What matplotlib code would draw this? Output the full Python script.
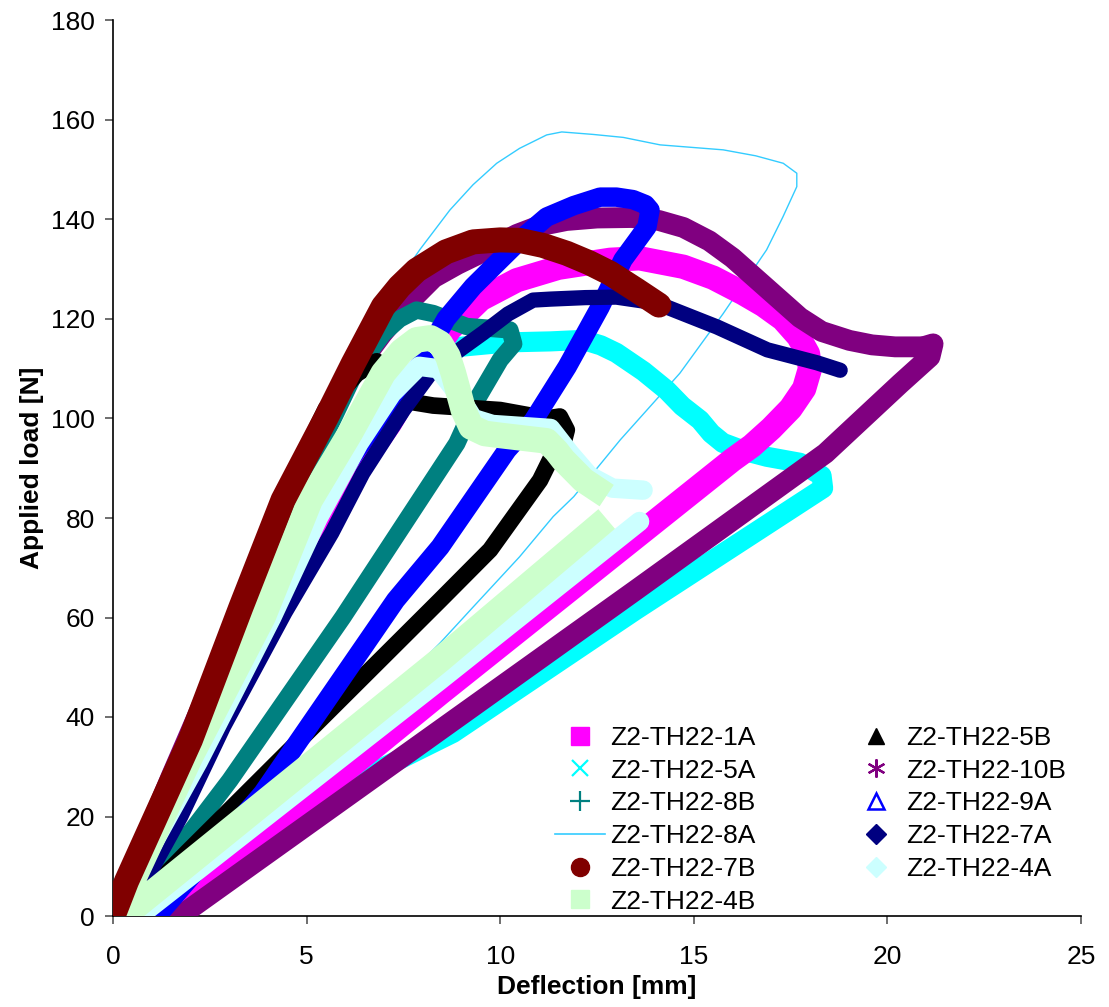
import numpy as np
import matplotlib
matplotlib.use("Agg")
import matplotlib.pyplot as plt
from matplotlib.lines import Line2D

plt.rcParams['font.family'] = ['Liberation Sans', 'DejaVu Sans']

nan = np.nan
# ---- data (deflection [mm], load [N]) ----
labels = ["Z2-TH22-1A", "Z2-TH22-5A", "Z2-TH22-8B", "Z2-TH22-8A", "Z2-TH22-7B",
          "Z2-TH22-4B", "Z2-TH22-5B", "Z2-TH22-10B", "Z2-TH22-9A", "Z2-TH22-7A",
          "Z2-TH22-4A"]

s1A_x = [0, 0.5, 2.0, 3.95, 5.2, 6.0, 6.7, 7.15, 7.6, 8.7, 9.5, 10.43, 11.5, 12.84,
         13.6, 14.73, 15.5, 16.27, 16.8, 17.3, 17.7, 17.95, 18.0, 17.85, 17.5, 17.0,
         16.5, 16.0, 8.45, 1.4]
s1A_y = [0, 7, 32, 60.2, 77, 87, 94, 99, 105, 118, 124, 127.8, 130.3, 131.9,
         132.2, 130.5, 128.3, 125.2, 122.8, 120, 116.5, 113, 110, 106, 102, 98,
         94.5, 91.7, 44.8, 0]

s5A_x = [0, 0.5, 2.0, 3.95, 5.1, 5.8, 6.5, 7.35, 7.85, 8.5, 8.96, 10.2, 11.3,
         12.14, 12.6, 13.0, 13.7, 14.3, 14.7, 15.16, 15.45, 15.75, 16.3, 16.89,
         17.74, 18.3, 18.34, 13.5, 8.78, 6.5, 4.2, 2.0, 0.9]
s5A_y = [0, 7, 32, 60.2, 77, 86, 94, 103, 108.5, 112, 114.4, 115.3, 115.5,
         115.8, 114.7, 113.2, 109.5, 105.7, 102.5, 99.7, 97, 95.1, 93.5, 92.3,
         91.1, 88.5, 86, 61.5, 36.8, 28, 17, 5.5, 0]

s8B_x = [0, 0.4, 2.1, 3.55, 4.7, 5.75, 6.3, 6.98, 7.4, 7.84, 8.27, 9.13, 10.25,
         10.35, 10.0, 9.39, 8.88, 5.94, 3.02, 1.0, 0.4]
s8B_y = [0, 7, 36, 62, 84, 101, 110, 117.1, 120, 121.8, 121.1, 118.5, 117.8,
         115, 111.8, 103.7, 95, 60.1, 27.3, 6.6, 0]

s8A_x = [0, 2.0, 3.4, 4.5, 5.6, 6.5, 7.15, 7.93, 8.7, 9.3, 9.91, 10.5, 11.2, 11.59,
         12.4, 13.18, 14.13, 15.76, 16.6, 17.31, 17.66, 17.66, 17.3, 16.88, 15.76,
         14.64, 13.1, 11.9, 11.37, 10.5, 9.3, 8.45, 7.67, 1.2]
s8A_y = [0, 36, 62, 84, 103, 116, 125.2, 134, 141.9, 147, 151.3, 154.3, 157, 157.6,
         157.1, 156.5, 155, 154, 152.8, 151.3, 149.3, 146.6, 140.5, 133.9, 121.1,
         109.1, 95.7, 84.3, 80.3, 72.2, 62.1, 54.9, 48.8, 0]

s7B_x = [0, 0.35, 2.0, 3.3, 4.39, 5.52, 6.2, 6.98, 7.4, 7.84, 8.6, 9.3, 10.0, 10.5,
         11.1, 11.72, 12.3, 12.84, 13.52, 14.1]
s7B_y = [0, 7, 35.4, 62, 83.6, 100.4, 111, 122.5, 126.5, 129.8, 133.5, 135.5,
         135.9, 135.8, 134.8, 133.2, 131.3, 129.2, 125.8, 122.8]

s4B_x = [0, 0.5, 2.0, 3.88, 5.09, 6.12, 6.98, 7.45, 7.84, 8.2, 8.45, 8.65, 8.79,
         9.05, 9.25, 9.6, 10.0, 11.2, 11.45, 11.63, 12.15, 12.75, nan, 12.75, 8.45,
         0.28]
s4B_y = [0, 7, 32, 60.2, 83.6, 97, 109.1, 113.5, 115.8, 116.2, 115.1, 112.5,
         109.1, 101.7, 98.3, 97, 96.6, 95.5, 93.5, 91.7, 87.6, 84.5, nan, 79.8,
         51.5, 0]

s5B_x = [0, 2.0, 3.3, 4.5, 5.5, 6.3, 6.81, 7.41, 8.27, 10.0, 11.2, 11.54, 11.72,
         11.63, 11.29, 11.03, 9.74, 8.45, 1.9, 0.3]
s5B_y = [0, 36, 62, 86, 102, 109, 111.5, 103.7, 102.6, 101.7, 100, 100.4, 97.7,
         95, 91.7, 87.6, 73.6, 63.5, 12.7, 0]

s10B_x = [0, 1.5, 3.0, 4.5, 5.8, 6.95, 7.6, 8.28, 8.9, 9.56, 10.43, 11.0, 11.71,
          12.5, 13.4, 14.1, 14.73, 15.4, 16.0, 16.87, 17.74, 18.3, 19.02, 19.6,
          20.2, 20.92, 21.18, 21.1, 20.33, 18.4, 13.5, 8.45, 1.73]
s10B_y = [0, 28, 55, 85, 105, 117, 123, 128.3, 131, 133.5, 137, 138.7, 139.8,
          140.3, 140.4, 139.8, 138.4, 135.7, 132.3, 126.3, 120.3, 117.5, 115.7,
          114.8, 114.4, 114.4, 115, 112.4, 107, 93, 65.5, 37.4, 0]

s9A_x = [0, 0.5, 2.0, 3.95, 5.0, 5.65, 6.3, 7.2, 7.9, 8.6, 9.3, 10.0, 10.6,
         11.2, 11.9, 12.58, 13.0, 13.43, 13.75, 13.87, 13.79, 13.17, 12.58, 11.73,
         10.85, 10.18, 8.45, 7.3, 3.87, 1.14]
s9A_y = [0, 7, 32, 60.2, 77, 86, 93.7, 103.7, 110.4, 120, 126.5, 131.9, 136.5,
         140.5, 142.8, 144.5, 144.5, 144, 143, 141.9, 138.5, 131.9, 122.4, 110.4,
         99.5, 93.7, 74.2, 63.5, 24.7, 0]

s7A_x = [0, 0.9, 1.75, 2.85, 4.44, 5.65, 6.45, 7.5, 8.19, 8.9, 9.56, 10.2, 10.85,
         11.3, 12.2, 13.0, 13.7, 14.3, 15.6, 16.9, 18.18, 18.78]
s7A_y = [0, 8, 20, 38, 61, 77, 89, 101.7, 109, 113.5, 117.2, 121, 123.8,
         124, 124.3, 124.4, 123.6, 122.4, 118.4, 113.8, 111.2, 109.7]

s4A_x = [0, 2.2, 4.1, 5.3, 6.35, 7.2, 7.9, 8.4, 8.9, 9.3, 9.8, 11.3, 11.8, 12.3,
         12.9, 13.69, nan, 13.6, 8.45, 0.68]
s4A_y = [0, 31, 60, 80, 95, 105, 110.5, 110, 105, 100, 98.8, 98, 93, 88.5,
         86, 85.6, nan, 79.3, 47.4, 0]

x_ticks = [0, 5, 10, 15, 20, 25]
y_ticks = [0, 20, 40, 60, 80, 100, 120, 140, 160, 180]

# ---- styles ----
col = {
    "1A": "#FF00FF", "5A": "#00FFFF", "8B": "#008080", "8A": "#33CCFF",
    "7B": "#800000", "4B": "#CCFFCC", "5B": "#000000", "10B": "#800080",
    "9A": "#0000FF", "7A": "#000080", "4A": "#CCFFFF",
}

fig = plt.figure(figsize=(11.09, 10.07), dpi=100)
ax = fig.add_axes([113/1109, 91/1007, (1081-113)/1109, (916-20.5)/1007])

def band(x, y, c, lw, z, cap="round"):
    ax.plot(x, y, color=c, lw=lw, zorder=z, solid_capstyle=cap,
            solid_joinstyle="round")

band(s8A_x, s8A_y, col["8A"], 1.0, 1)
band(s5A_x, s5A_y, col["5A"], 14.5, 2)
band(s1A_x, s1A_y, col["1A"], 17.5, 3)
band(s10B_x, s10B_y, col["10B"], 15, 4)
band(s8B_x, s8B_y, col["8B"], 12.5, 5)
band(s5B_x, s5B_y, col["5B"], 12, 6)
band(s9A_x, s9A_y, col["9A"], 14, 7)
band(s7A_x, s7A_y, col["7A"], 11, 8)
band(s4A_x, s4A_y, col["4A"], 14, 9)
band(s4B_x, s4B_y, col["4B"], 18.5, 10, cap="butt")
band(s7B_x, s7B_y, col["7B"], 18, 11)

ax.set_xlim(0, 25)
ax.set_ylim(0, 180)
ax.set_xticks(x_ticks)
ax.set_yticks(y_ticks)
ax.tick_params(axis="both", direction="out", length=6, width=1.2,
               color="#555555", labelsize=19, labelcolor="black")
ax.tick_params(axis="x", pad=15)
ax.tick_params(axis="y", pad=7)
for s in ["top", "right"]:
    ax.spines[s].set_visible(False)
for s in ["left", "bottom"]:
    ax.spines[s].set_linewidth(1.2)
    ax.spines[s].set_color("black")

ax.set_xlabel("Deflection [mm]", fontsize=19, fontweight="bold", labelpad=4)
ax.set_ylabel("Applied load [N]", fontsize=19, fontweight="bold", labelpad=5)

handles = [
    Line2D([], [], ls="None", marker="s", ms=13, mfc=col["1A"], mec=col["1A"]),
    Line2D([], [], ls="None", marker="x", ms=12, mec=col["5A"], mew=1.6),
    Line2D([], [], ls="None", marker="+", ms=14, mec=col["8B"], mew=1.6),
    Line2D([], [], ls="-", lw=1.2, color=col["8A"]),
    Line2D([], [], ls="None", marker="o", ms=13, mfc=col["7B"], mec=col["7B"]),
    Line2D([], [], ls="None", marker="s", ms=13, mfc=col["4B"], mec=col["4B"]),
    Line2D([], [], ls="None", marker="^", ms=12, mfc=col["5B"], mec=col["5B"]),
    Line2D([], [], ls="None", marker=(6, 2, 0), ms=13, mec=col["10B"], mew=1.6),
    Line2D([], [], ls="None", marker="^", ms=12, mfc="white", mec=col["9A"], mew=1.8),
    Line2D([], [], ls="None", marker="D", ms=10, mfc=col["7A"], mec=col["7A"]),
    Line2D([], [], ls="None", marker="D", ms=10, mfc=col["4A"], mec=col["4A"]),
]
fig.legend(handles, labels, ncol=2, frameon=False, fontsize=19,
           loc="upper left", bbox_to_anchor=(555/1109, 1 - 726/1007),
           handlelength=1.9, handletextpad=0.2, columnspacing=3.6,
           labelspacing=0.33, borderpad=0, borderaxespad=0)

fig.savefig("out.png", dpi=100)
